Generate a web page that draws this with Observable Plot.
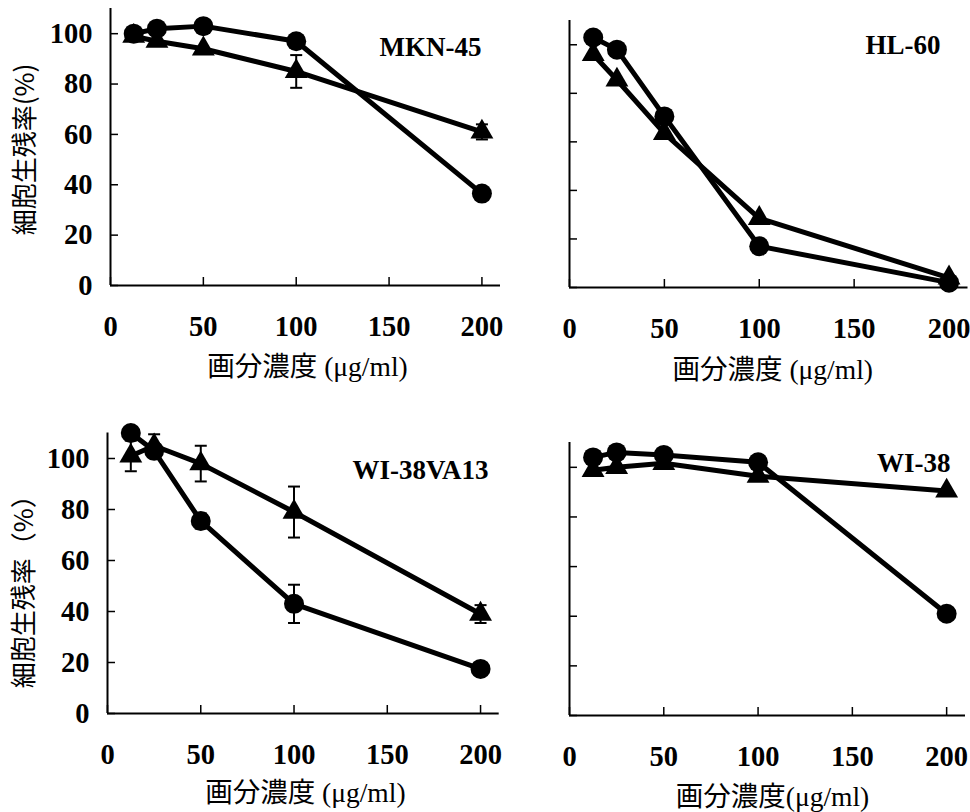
<!DOCTYPE html>
<html><head><meta charset="utf-8">
<script src="https://cdn.jsdelivr.net/npm/d3@7"></script>
<script src="https://cdn.jsdelivr.net/npm/@observablehq/plot@0.6"></script>
<style>
body{margin:0;background:#fff;}
#wrap{position:relative;width:970px;height:812px;background:#fff;overflow:hidden;}
#wrap svg{position:absolute;}
</style></head><body><div id="wrap"></div>
<script>
// ---- data ----
const conc = [12.5, 25, 50, 100, 200];
const xTicks = [0, 50, 100, 150, 200];
const yTicks = [0, 20, 40, 60, 80, 100];
const cellNames = ["MKN-45", "HL-60", "WI-38VA13", "WI-38"];
const xTitles = ["画分濃度 (μg/ml)", "画分濃度 (μg/ml)", "画分濃度 (μg/ml)", "画分濃度(μg/ml)"];
const yTitles = ["細胞生残率(%)", null, "細胞生残率（%）", null];

const mkn45Circle = [100, 102, 103, 97, 36.5];
const mkn45CircleErr = [0, 0, 0, 0, 0];
const mkn45Tri = [99, 97, 94, 85, 61];
const mkn45TriErr = [0, 0, 0, 6.5, 3];

const hl60Circle = [103, 98, 70.5, 17, 2];
const hl60CircleErr = [0, 0, 0, 0, 0];
const hl60Tri = [96, 85.5, 63.5, 28.5, 4];
const hl60TriErr = [0, 0, 0, 0, 0];

const va13Circle = [110, 103, 75.5, 43, 17.5];
const va13CircleErr = [0, 0, 3, 7.5, 0];
const va13Tri = [101, 105, 98, 79, 39];
const va13TriErr = [6, 4.5, 7, 10, 3.5];

const wi38Circle = [104, 106, 105, 102, 41];
const wi38CircleErr = [0, 0, 0, 0, 2];
const wi38Tri = [98.8, 100, 101.6, 96.4, 90.5];
const wi38TriErr = [0, 0, 0, 0, 0];

// ---- layout (not data) ----
const panels = [
  {name: cellNames[0], xt: xTitles[0], yt: yTitles[0], circle: mkn45Circle, cErr: mkn45CircleErr, tri: mkn45Tri, tErr: mkn45TriErr,
   left: 0, top: 0, width: 500, height: 400, mL: 110, mR: 0, mT: 8, mB: 115, yLabels: true,
   nameDx: -19, nameDy: 38.5, xtDx: 2, xtDy: 82, ytDx: -85, ytDy: 2.5},
  {name: cellNames[1], xt: xTitles[1], yt: yTitles[1], circle: hl60Circle, cErr: hl60CircleErr, tri: hl60Tri, tErr: hl60TriErr,
   left: 500, top: 0, width: 470, height: 400, mL: 69, mR: 2.5, mT: 20, mB: 113, yLabels: false,
   nameDx: -27.5, nameDy: 25, xtDx: 4, xtDy: 83},
  {name: cellNames[2], xt: xTitles[2], yt: yTitles[2], circle: va13Circle, cErr: va13CircleErr, tri: va13Tri, tErr: va13TriErr,
   left: 0, top: 410, width: 500, height: 402, mL: 107, mR: 1.3, mT: 22.5, mB: 99, yLabels: true,
   nameDx: -10.7, nameDy: 37.5, xtDx: 2, xtDy: 80, ytDx: -83, ytDy: 12},
  {name: cellNames[3], xt: xTitles[3], yt: yTitles[3], circle: wi38Circle, cErr: wi38CircleErr, tri: wi38Tri, tErr: wi38TriErr,
   left: 500, top: 410, width: 470, height: 402, mL: 69, mR: 5, mT: 32, mB: 97, yLabels: false,
   nameDx: -15, nameDy: 21, xtDx: 5, xtDy: 82}
];

const serif = "'Liberation Serif', 'Times New Roman', serif";
const capSymbol = {draw(ctx, size) { const w = Math.sqrt(size / Math.PI); ctx.moveTo(-w, 0); ctx.lineTo(w, 0); }};

function makePanel(p) {
  const circles = conc.map((x, i) => ({x, y: p.circle[i], e: p.cErr[i]}));
  const tris = conc.map((x, i) => ({x, y: p.tri[i], e: p.tErr[i]}));
  const errs = circles.concat(tris).filter(d => d.e > 0);
  const caps = errs.flatMap(d => [{x: d.x, y: d.y - d.e}, {x: d.x, y: d.y + d.e}]);
  const marks = [
    Plot.ruleX([0], {strokeWidth: 2}),
    Plot.ruleY([0], {strokeWidth: 2}),
    Plot.axisX({ticks: xTicks, tickSize: -8, fill: "none", strokeWidth: 1.5, label: null}),
    Plot.axisX({ticks: xTicks, tickSize: 0, tickPadding: 30, label: null, fontSize: 28.5, fontWeight: "bold", fontFamily: serif}),
    Plot.axisY({ticks: yTicks, tickSize: -8, fill: "none", strokeWidth: 1.5, label: null})
  ];
  if (p.yLabels) marks.push(Plot.axisY({ticks: yTicks, tickSize: 0, tickPadding: 18, label: null, fontSize: 28.5, fontWeight: "bold", fontFamily: serif}));
  marks.push(
    Plot.line(circles, {x: "x", y: "y", stroke: "black", strokeWidth: 5}),
    Plot.line(tris, {x: "x", y: "y", stroke: "black", strokeWidth: 5}),
    Plot.ruleX(errs, {x: "x", y1: d => d.y - d.e, y2: d => d.y + d.e, stroke: "black", strokeWidth: 2}),
    Plot.dot(caps, {x: "x", y: "y", symbol: capSymbol, r: 6, fill: "none", stroke: "black", strokeWidth: 2}),
    Plot.dot(tris, {x: "x", y: "y", symbol: "triangle", r: 8.5, fill: "black", stroke: "none"}),
    Plot.dot(circles, {x: "x", y: "y", r: 10, fill: "black", stroke: "none"}),
    Plot.text([p.name], {text: d => d, frameAnchor: "top-right", textAnchor: "end", lineAnchor: "middle", dx: p.nameDx, dy: p.nameDy, fontSize: 27, fontWeight: "bold", fontFamily: serif}),
    Plot.text([p.xt], {text: d => d, frameAnchor: "bottom", textAnchor: "middle", lineAnchor: "middle", dx: p.xtDx, dy: p.xtDy, fontSize: 27.5, fontWeight: "normal", fontFamily: "'Liberation Serif', 'Noto Sans CJK JP', serif"})
  );
  if (p.yt) marks.push(Plot.text([p.yt], {text: d => d, frameAnchor: "left", textAnchor: "middle", rotate: -90, lineAnchor: "middle", dx: p.ytDx, dy: p.ytDy, fontSize: 26, fontWeight: "normal", fontFamily: "'Noto Sans CJK JP', sans-serif"}));
  const svg = Plot.plot({
    width: p.width, height: p.height,
    marginLeft: p.mL, marginRight: p.mR, marginTop: p.mT, marginBottom: p.mB,
    x: {domain: [0, 210]},
    y: {domain: [0, 110]},
    style: {fontFamily: serif, fontSize: "27px", fontWeight: "bold", color: "black", background: "transparent", overflow: "visible"},
    marks
  });
  svg.style.left = p.left + "px";
  svg.style.top = p.top + "px";
  return svg;
}

const wrap = document.getElementById("wrap");
panels.forEach(p => wrap.appendChild(makePanel(p)));
</script>
</body></html>
